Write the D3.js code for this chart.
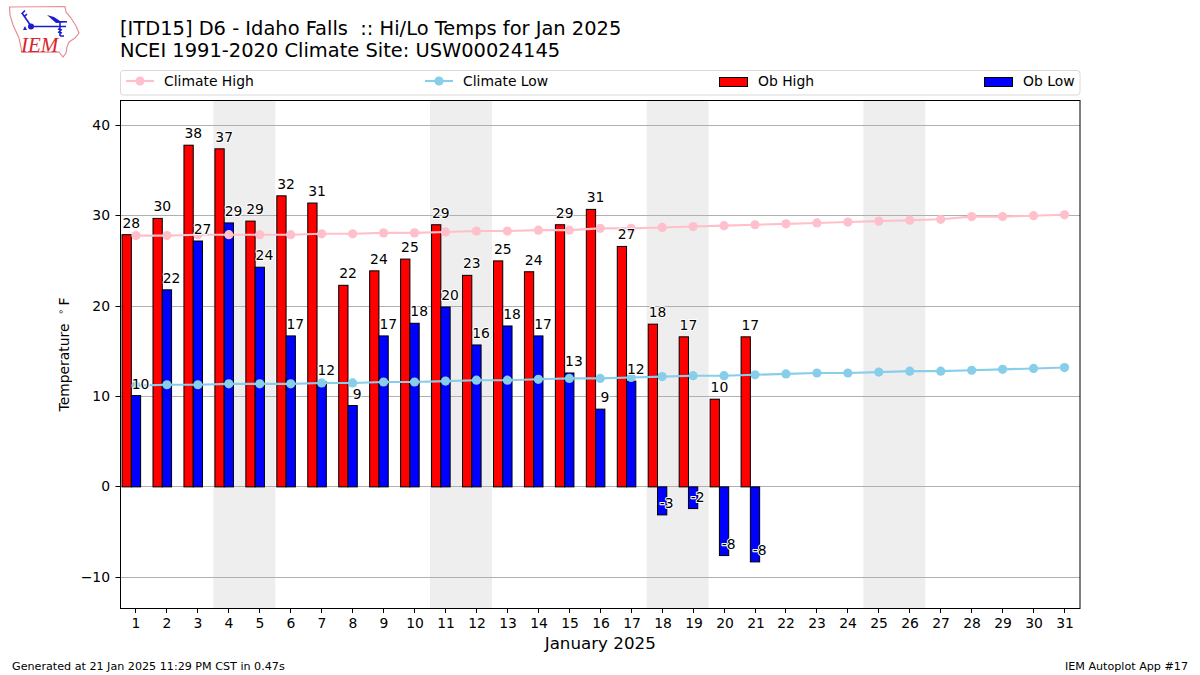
<!DOCTYPE html>
<html>
<head>
<meta charset="utf-8">
<title>Hi/Lo Temps</title>
<script src="https://cdn.jsdelivr.net/npm/d3@7"></script>
<style>
	body {margin: 0; background: #fff;}
	text {font-family: "DejaVu Sans", sans-serif; fill: #000;}
</style>
</head>
<body>
<div id="container"></div>
<script>
// values
var days = d3.range(1, 32);
var obHigh = [27.9,29.7,37.8,37.4,29.4,32.2,31.4,22.3,23.9,25.2,29,23.4,25,23.8,29,30.7,26.6,18,16.6,9.7,16.6];
var obLow = [10.1,21.8,27.2,29.2,24.3,16.7,11.6,9,16.7,18.1,19.9,15.7,17.8,16.7,12.6,8.6,11.7,-3.1,-2.4,-7.6,-8.3];
var climateHigh = [27.8,27.8,27.9,27.9,27.9,27.9,28,28,28.1,28.1,28.2,28.3,28.3,28.4,28.4,28.6,28.6,28.7,28.8,28.9,29,29.1,29.2,29.3,29.4,29.5,29.6,29.9,29.9,30,30.1];
var climateLow = [11.2,11.3,11.3,11.4,11.4,11.4,11.5,11.5,11.6,11.6,11.7,11.8,11.8,11.9,12,12,12.1,12.2,12.3,12.3,12.4,12.5,12.6,12.6,12.7,12.8,12.8,12.9,13,13.1,13.2];
var weekends = [[4,5],[11,12],[18,19],[25,26]];
var yTicks = [-10,0,10,20,30,40];

var margin = {top: 100, right: 120, bottom: 67, left: 120.5},
	width = 1200 - margin.left - margin.right,
	height = 675 - margin.top - margin.bottom;

var barWidth = 0.3;

var svg = d3.select("#container").append("svg")
	.attr("width", 1200)
	.attr("height", 675)
	.style("display", "block");

var x = d3.scaleLinear().domain([0.5, 31.5]).range([0, width]);
var y = d3.scaleLinear().domain([42.8, -13.4]).range([0, height]);

drawHeader();
drawPlot();
drawLegend();
drawLogo();

function drawHeader(){
	svg.append("text")
		.attr("x", 120)
		.attr("y", 35)
		.attr("xml:space", "preserve")
		.style("white-space", "pre")
		.style("font-size", "19.45px")
		.text("[ITD15] D6 - Idaho Falls  :: Hi/Lo Temps for Jan 2025");
	svg.append("text")
		.attr("x", 120)
		.attr("y", 57)
		.style("font-size", "19.45px")
		.text("NCEI 1991-2020 Climate Site: USW00024145");

	svg.append("text")
		.attr("x", 12)
		.attr("y", 670)
		.style("font-size", "11.15px")
		.text("Generated at 21 Jan 2025 11:29 PM CST in 0.47s");
	svg.append("text")
		.attr("x", 1188)
		.attr("y", 670)
		.style("text-anchor", "end")
		.style("font-size", "11.15px")
		.text("IEM Autoplot App #17");
}

//keep thin lines on the pixel grid
function snap(v){
	return Math.floor(v) + 0.5;
}

function drawPlot(){
	var g = svg.append("g")
		.attr("transform", "translate(" + margin.left + "," + margin.top + ")");

	//weekend shading
	g.selectAll(".weekend")
		.data(weekends).enter()
		.append("rect")
			.attr("class", "weekend")
			.attr("x", function(d) { return x(d[0] - 0.5); })
			.attr("width", function(d) { return x(d[1] + 0.5) - x(d[0] - 0.5); })
			.attr("y", 0)
			.attr("height", height)
			.style("fill", "#eeeeee");

	//grid lines sit under the bars
	g.selectAll(".grid")
		.data(yTicks).enter()
		.append("line")
			.attr("class", "grid")
			.attr("x1", 0)
			.attr("x2", width)
			.attr("y1", function(d) { return snap(y(d)); })
			.attr("y2", function(d) { return snap(y(d)); })
			.style("stroke", "#b0b0b0")
			.style("stroke-width", 1);

	// red bars end where the blue ones start, both left of the tick
	drawBars(g, obHigh, -0.45, "red");
	drawBars(g, obLow, -0.15, "blue");

	drawClimate(g, climateHigh, "pink");
	drawClimate(g, climateLow, "skyblue");

	drawLabels(g, obHigh, -0.15);
	drawLabels(g, obLow, 0.15);

	//the axes
	var xAxis = d3.axisBottom(x).tickValues(days).tickSize(5).tickPadding(5).tickFormat(d3.format("d"));
	var yAxis = d3.axisLeft(y).tickValues(yTicks).tickSize(5).tickPadding(5.5).tickFormat(function(d) {
		return String(d).replace("-", "\u2212");
	});

	var xg = g.append("g")
		.attr("transform", "translate(0," + height + ")")
		.call(xAxis);
	var yg = g.append("g")
		.call(yAxis);

	xg.select(".domain").remove();
	yg.select(".domain").remove();

	xg.selectAll(".tick").attr("transform", function(d) {
		return "translate(" + (Math.floor(x(d) + margin.left) + 0.5 - margin.left) + ",0)";
	});
	xg.selectAll(".tick text").attr("dx", 0.5);
	yg.selectAll(".tick").attr("transform", function(d) {
		return "translate(0," + snap(y(d)) + ")";
	});
	g.selectAll(".tick text").style("font-size", "13.9px").style("font-family", '"DejaVu Sans", sans-serif');

	g.append("rect")
		.attr("x", 0)
		.attr("y", 0.5)
		.attr("width", width)
		.attr("height", height)
		.style("fill", "none")
		.style("stroke", "#000")
		.style("stroke-width", 1);

	g.append("text")
		.attr("x", width / 2)
		.attr("y", height + 41)
		.style("text-anchor", "middle")
		.style("font-size", "16.7px")
		.text("January 2025");

	var ylabel = g.append("text")
		.attr("transform", "translate(-52," + (height / 2 + 0.5) + ") rotate(-90)")
		.style("text-anchor", "middle")
		.style("font-size", "13.9px");
	ylabel.append("tspan").text("Temperature\u00A0\u00A0");
	ylabel.append("tspan").attr("dy", -5).style("font-size", "9.7px").text("\u2218");
	ylabel.append("tspan").attr("dy", 5).attr("dx", 3).text("F");
}

function drawBars(g, values, offset, color){
	g.selectAll(".bar-" + color)
		.data(values).enter()
		.append("rect")
			.attr("class", "bar-" + color)
			.attr("x", function(d, i) { return x(days[i] + offset); })
			.attr("width", x(1 + barWidth) - x(1))
			.attr("y", function(d) { return y(Math.max(d, 0)); })
			.attr("height", function(d) { return Math.abs(y(d) - y(0)); })
			.style("fill", color)
			.style("stroke", "#000")
			.style("stroke-width", 1);
}

function drawClimate(g, values, color){
	var line = d3.line()
		.x(function(d, i) { return x(days[i]); })
		.y(function(d) { return y(d); });

	g.append("path")
		.datum(values)
		.attr("d", line)
		.style("fill", "none")
		.style("stroke", color)
		.style("stroke-width", 2.1);

	g.selectAll(".dot-" + color)
		.data(values).enter()
		.append("circle")
			.attr("class", "dot-" + color)
			.attr("cx", function(d, i) { return x(days[i]); })
			.attr("cy", function(d) { return y(d); })
			.attr("r", 4.6)
			.style("fill", color);
}

function drawLabels(g, values, offset){
	g.selectAll(".lab")
		.data(values, function(d, i) { return offset + "-" + i; }).enter()
		.append("text")
			.attr("x", function(d, i) { return x(days[i] + offset); })
			.attr("y", function(d) { return y(d) - 7; })
			.style("text-anchor", "middle")
			.style("font-size", "13.9px")
			.style("paint-order", "stroke")
			.style("stroke", "#fff")
			.style("stroke-width", 2)
			.style("stroke-linejoin", "round")
			.text(function(d) { return String(Math.round(d)); });
}

function drawLegend(){
	svg.append("rect")
		.attr("x", 120.5)
		.attr("y", 70.5)
		.attr("width", 959.5)
		.attr("height", 24.5)
		.attr("rx", 3)
		.style("fill", "#fff")
		.style("stroke", "#d9d9d9")
		.style("stroke-width", 1);

	var lineItems = [
		{name: "Climate High", color: "pink", x0: 126},
		{name: "Climate Low", color: "skyblue", x0: 425}
	];
	var barItems = [
		{name: "Ob High", color: "red", x0: 719},
		{name: "Ob Low", color: "blue", x0: 984}
	];

	lineItems.forEach(function(d) {
		svg.append("line")
			.attr("x1", d.x0).attr("x2", d.x0 + 28)
			.attr("y1", 81).attr("y2", 81)
			.style("stroke", d.color)
			.style("stroke-width", 2.1);
		svg.append("circle")
			.attr("cx", d.x0 + 14).attr("cy", 81).attr("r", 4.6)
			.style("fill", d.color);
		svg.append("text")
			.attr("x", d.x0 + 38).attr("y", 86)
			.style("font-size", "13.9px")
			.text(d.name);
	});

	barItems.forEach(function(d) {
		svg.append("rect")
			.attr("x", d.x0 + 0.5).attr("y", 77.5)
			.attr("width", 28).attr("height", 9)
			.style("fill", d.color)
			.style("stroke", "#000")
			.style("stroke-width", 1);
		svg.append("text")
			.attr("x", d.x0 + 39).attr("y", 86)
			.style("font-size", "13.9px")
			.text(d.name);
	});
}

//rough copy of the IEM logo
function drawLogo(){
	var logo = svg.append("g");

	logo.append("path")
		.attr("d", "M9.5,7 L65,6.5 L66,12 L71,18 L76,26 L79,33 L75,38 L69,42 L67,47 L66,53 L63,57 L59,52 L22,52.5 L19,38 L13,25 L10,15 Z")
		.style("fill", "#fff")
		.style("stroke", "#e58f95")
		.style("stroke-width", 1.2);

	logo.append("path")
		.attr("d", "M31,26.5 H66 M22,13 L31,26 M21.5,14 L25,10.5 M24,17 L27,14 M60,22 V36 M60,36 L64,36 M58,29 L62,30 M58,32 L62,33")
		.style("fill", "none")
		.style("stroke", "#1c1ccf")
		.style("stroke-width", 1.6);
	logo.append("path")
		.attr("d", "M47,15 L54,17 L60,21 L67,21 L67,22.5 L56,23 Z")
		.style("fill", "#1c1ccf");
	logo.append("circle")
		.attr("cx", 31).attr("cy", 26.5).attr("r", 3)
		.style("fill", "#1c1ccf");
	logo.append("path")
		.attr("d", "M23,30 L25,26 L27,30 Z")
		.style("fill", "#1c1ccf");

	logo.append("text")
		.attr("x", 21)
		.attr("y", 52)
		.style("font-family", '"Liberation Serif", serif')
		.style("font-style", "italic")
		.style("font-size", "21px")
		.style("fill", "#d8252c")
		.text("IEM");
}
</script>
</body>
</html>
